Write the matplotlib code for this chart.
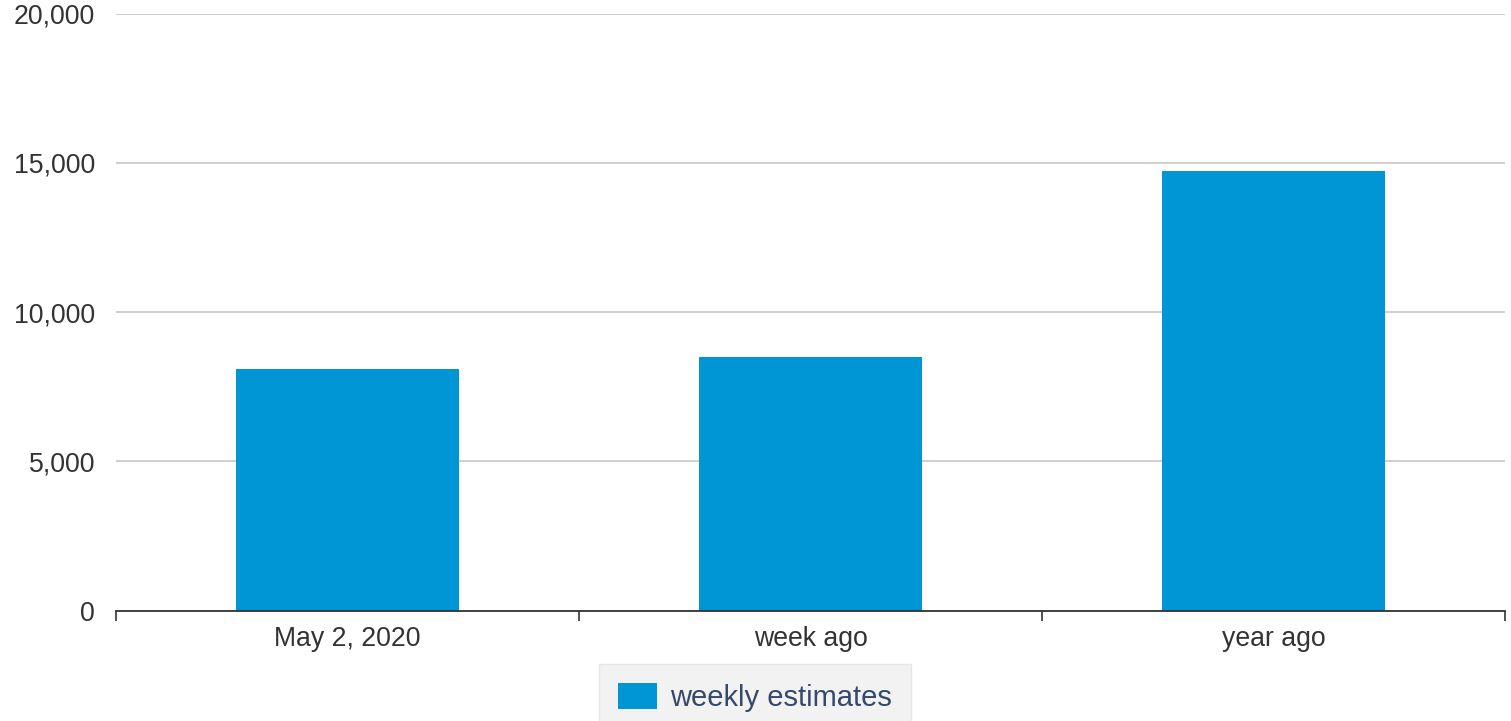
import matplotlib.pyplot as plt
from matplotlib.ticker import FuncFormatter

categories = ['May 2, 2020', 'week ago', 'year ago']
weekly_estimates = [8100, 8500, 14730]
series_name = 'weekly estimates'

plt.rcParams['font.family'] = ['Liberation Sans', 'DejaVu Sans']

fig = plt.figure(figsize=(15.11, 7.21), dpi=100)
ax = fig.add_axes([0.0768, 0.153, 0.9192, 0.828])

x = list(range(len(categories)))
ax.bar(x, weekly_estimates, width=0.48, color='#0096d6', label=series_name, zorder=3)

ax.set_xlim(-0.5, len(categories) - 0.5)
ax.set_ylim(0, 20000)
ax.set_yticks([0, 5000, 10000, 15000, 20000])
ax.yaxis.set_major_formatter(FuncFormatter(lambda v, p: '{:,.0f}'.format(v)))
ax.yaxis.grid(True, color='#cccccc', linewidth=1.3, zorder=0)
ax.tick_params(axis='y', length=0, pad=15, labelsize=19.2, labelcolor='#333333')

# category boundaries get the tick marks, labels sit in the middle
ax.set_xticks([i - 0.5 for i in range(len(categories) + 1)])
ax.set_xticklabels([])
ax.set_xticks(x, minor=True)
ax.set_xticklabels(categories, minor=True)
ax.tick_params(axis='x', which='major', length=7, width=1.2, color='#333333', direction='out')
ax.tick_params(axis='x', which='minor', length=0, pad=11, labelsize=19.2, labelcolor='#333333')

for side in ['top', 'right', 'left']:
    ax.spines[side].set_visible(False)
ax.spines['bottom'].set_color('#333333')
ax.spines['bottom'].set_linewidth(1.3)
ax.spines['bottom'].set_zorder(4)

leg = fig.legend(loc='upper center', bbox_to_anchor=(755 / 1511, 1 - 664 / 721),
                 fontsize=21, frameon=True, fancybox=False,
                 facecolor='#efefef', edgecolor='#e2e2e2',
                 handlelength=1.34, handleheight=1.0, handletextpad=0.42,
                 borderpad=0.65, borderaxespad=0)
leg.get_frame().set_linewidth(1)
for t in leg.get_texts():
    t.set_color('#34496b')

fig.savefig('out.png', dpi=100)
